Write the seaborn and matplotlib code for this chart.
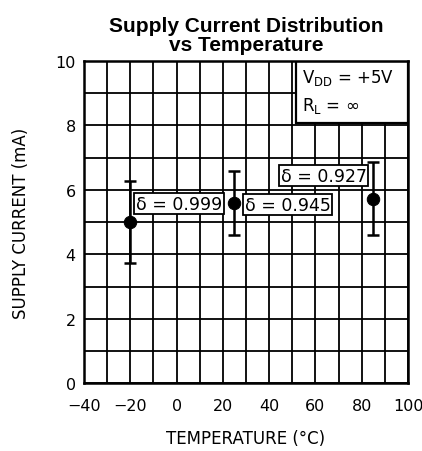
import numpy as np
import pandas as pd
import matplotlib
matplotlib.use("Agg")
import matplotlib.pyplot as plt
from matplotlib.patches import Rectangle
import seaborn as sns

# data
temps = [-20, 25, 85]
current_mean = [5.0, 5.59, 5.71]
current_high = [6.28, 6.58, 6.85]
current_low = [3.72, 4.59, 4.59]
delta_labels = ["\u03b4 = 0.999", "\u03b4 = 0.945", "\u03b4 = 0.927"]
x_ticks = [-40, -20, 0, 20, 40, 60, 80, 100]
y_ticks = [0, 2, 4, 6, 8, 10]

sns.set_style("white")
plt.rcParams['font.family'] = ['DejaVu Sans']
plt.rcParams['text.color'] = 'black'
plt.rcParams['axes.labelcolor'] = 'black'
plt.rcParams['xtick.color'] = 'black'
plt.rcParams['ytick.color'] = 'black'

df = pd.DataFrame({"temp": temps, "mean": current_mean,
                   "high": current_high, "low": current_low})

fig = plt.figure(figsize=(4.22, 4.52), dpi=100)
ax = fig.add_axes([0.199, 0.150, 0.768, 0.713])

# grid every 10 degC and every 1 mA
for gx in np.arange(-40, 101, 10):
    ax.axvline(gx, color='black', lw=1.3, zorder=1)
for gy in np.arange(0, 11, 1):
    ax.axhline(gy, color='black', lw=1.3, zorder=1)

yerr = np.array([df["mean"] - df["low"], df["high"] - df["mean"]])
ax.errorbar(df["temp"], df["mean"], yerr=yerr, fmt='none', ecolor='black',
            elinewidth=1.8, capsize=4, capthick=1.8, zorder=3)
sns.scatterplot(data=df, x="temp", y="mean", ax=ax, color='black', s=80,
                edgecolor='black', zorder=4, legend=False)

# delta annotation boxes
label_pos = [(1.0, 5.57), (48.0, 5.54), (63.5, 6.44)]
for (lx, ly), txt in zip(label_pos, delta_labels):
    ax.text(lx, ly, txt, ha='center', va='center', fontsize=12.5, zorder=5,
            bbox=dict(boxstyle='square,pad=0.1', fc='white', ec='black', lw=1.3))

# conditions box in the top right corner
ax.add_patch(Rectangle((51.6, 8.07), 48.4, 1.93, fc='white', ec='black',
                       lw=1.6, zorder=5))
ax.text(54.0, 9.5, "$\\mathregular{V_{DD}}$ = +5V", ha='left', va='center',
        fontsize=12, zorder=6)
ax.text(54.0, 8.62, "$\\mathregular{R_L}$ = $\\infty$", ha='left', va='center',
        fontsize=12, zorder=6)

ax.set_xlim(-40, 100)
ax.set_ylim(0, 10)
ax.set_xticks(x_ticks)
ax.set_yticks(y_ticks)
ax.set_xticklabels([str(t).replace('-', '\u2212') for t in x_ticks])
ax.tick_params(length=0, labelsize=11.5)
ax.tick_params(axis='x', pad=11)
ax.tick_params(axis='y', pad=6)
for s in ax.spines.values():
    s.set_color('black')
    s.set_linewidth(1.8)
    s.set_zorder(7)

ax.set_xlabel("TEMPERATURE (\u00b0C)", fontsize=12, labelpad=11)
ax.set_ylabel("SUPPLY CURRENT (mA)", fontsize=12, labelpad=18)
ax.set_title("Supply Current Distribution\nvs Temperature", fontsize=15,
             fontweight='bold', family='Liberation Sans', linespacing=1.0, pad=8)

fig.savefig("out.png", dpi=100)
plt.close(fig)
